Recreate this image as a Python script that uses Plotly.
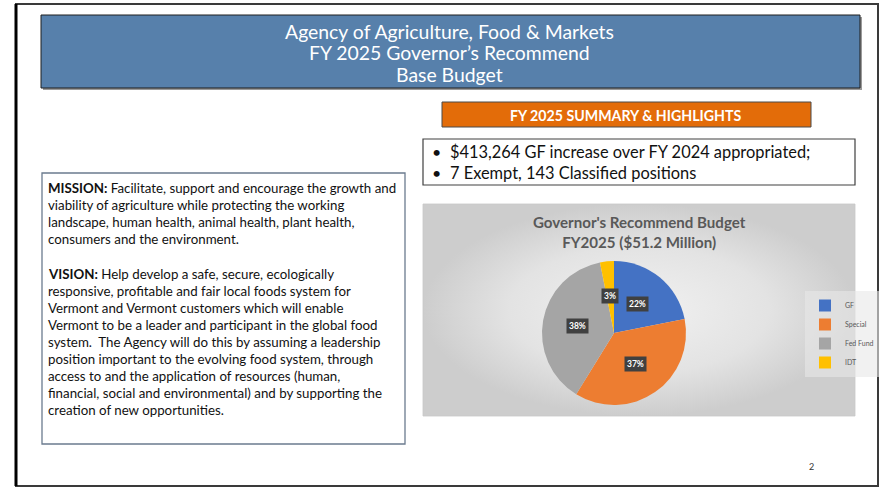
import math
import plotly.graph_objects as go

# ---- data ----
categories = ["GF", "Special", "Fed Fund", "IDT"]
values = [11.2, 18.9, 19.5, 1.6]  # $ millions, total 51.2
slice_colors = ["#4472C4", "#ED7D31", "#A5A5A5", "#FFC000"]

title_lines = ["Agency of Agriculture, Food &amp; Markets",
               "FY 2025 Governor’s Recommend",
               "Base Budget"]
summary_header = "FY 2025 SUMMARY &amp; HIGHLIGHTS"
highlights = ["$413,264 GF increase over FY 2024 appropriated;",
              "7 Exempt, 143 Classified positions"]
mission_lines = ["<b>MISSION:</b> Facilitate, support and encourage the growth and",
                 "viability of agriculture while protecting the working",
                 "landscape, human health, animal health, plant health,",
                 "consumers and the environment."]
vision_lines = ["<b>VISION:</b> Help develop a safe, secure, ecologically",
                "responsive, profitable and fair local foods system for",
                "Vermont and Vermont customers which will enable",
                "Vermont to be a leader and participant in the global food",
                "system.  The Agency will do this by assuming a leadership",
                "position important to the evolving food system, through",
                "access to and the application of resources (human,",
                "financial, social and environmental) and by supporting the",
                "creation of new opportunities."]
chart_title = "Governor's Recommend Budget<br>FY2025 ($51.2 Million)"
page_number = "2"

W, H = 879, 487
FONT = "Lato"


def px(x):
    return x / W


def py(y):
    return 1 - y / H


fig = go.Figure()

# chart area background with gradient
fig.add_trace(go.Scatter(
    x=[423, 855, 855, 423, 423], y=[204, 204, 416, 416, 204],
    mode="lines", fill="toself", line=dict(width=0.8, color="#c8c8c8"),
    fillgradient=dict(type="radial",
                      colorscale=[[0, "#f1f1f1"], [0.6, "#e3e3e3"], [1, "#cdcdcd"]]),
    hoverinfo="skip", showlegend=False))

# pie
cx, cy, R = 614, 333, 72
fig.add_trace(go.Pie(
    labels=categories, values=values, sort=False, direction="clockwise",
    rotation=0, marker=dict(colors=slice_colors, line=dict(width=0)),
    textinfo="none", hoverinfo="label+percent",
    domain=dict(x=[px(cx - R), px(cx + R)], y=[py(cy + R), py(cy - R)]),
))

shapes = []
# outer frame
shapes.append(dict(type="rect", xref="paper", yref="paper",
                   x0=px(16), x1=px(878), y0=py(486), y1=py(4),
                   line=dict(color="#3a3a3a", width=2), layer="below"))
shapes.append(dict(type="line", xref="paper", yref="paper",
                   x0=px(16), x1=px(16), y0=py(486), y1=py(4),
                   line=dict(color="#000000", width=3), layer="below"))
# title box (shadow + box)
shapes.append(dict(type="rect", xref="paper", yref="paper",
                   x0=px(43), x1=px(862), y0=py(90), y1=py(17),
                   fillcolor="#9a9a9a", line=dict(width=0), layer="below"))
shapes.append(dict(type="rect", xref="paper", yref="paper",
                   x0=px(41), x1=px(860), y0=py(88), y1=py(15),
                   fillcolor="#5780AB", line=dict(color="#1f1f1f", width=1), layer="below"))
# orange header
shapes.append(dict(type="rect", xref="paper", yref="paper",
                   x0=px(442), x1=px(811), y0=py(127), y1=py(102),
                   fillcolor="#E36C09", line=dict(color="#4a4a4a", width=1), layer="below"))
# highlights box
shapes.append(dict(type="rect", xref="paper", yref="paper",
                   x0=px(423), x1=px(855), y0=py(185), y1=py(139),
                   fillcolor="white", line=dict(color="#404040", width=1.2), layer="below"))
# mission box
shapes.append(dict(type="rect", xref="paper", yref="paper",
                   x0=px(42), x1=px(405), y0=py(444), y1=py(173),
                   fillcolor="white", line=dict(color="#6b7b8f", width=1.3), layer="below"))

annotations = []


def add_text(text, x, y, size, color, xanchor="center", family=FONT, **kw):
    annotations.append(dict(text=text, x=px(x), y=py(y), xref="paper", yref="paper",
                            showarrow=False, xanchor=xanchor, yanchor="middle",
                            align="left" if xanchor == "left" else "center",
                            font=dict(family=family, size=size, color=color), **kw))


for t, yy in zip(title_lines, [31, 52, 74]):
    add_text(t, 450, yy, 19.4, "white")
add_text("<b>" + summary_header + "</b>", 626, 115, 14.2, "white")
for t, yy in zip(highlights, [151, 172]):
    add_text("•", 430, yy, 16, "#111111", xanchor="left")
    add_text(t, 448, yy, 16.4, "#111111", xanchor="left")
for i, t in enumerate(mission_lines):
    add_text(t, 46, 188 + i * 17, 13.3, "#111111", xanchor="left")
for i, t in enumerate(vision_lines):
    add_text(t, 46, 274 + i * 17, 13.3, "#111111", xanchor="left")
add_text("<b>" + chart_title + "</b>", 639, 232, 15.1, "#595959")
add_text(page_number, 811, 466, 9, "#333333")

# data labels on slices (positions derived from the values)
total = sum(values)
cum = 0.0
for v in values:
    frac = v / total
    mid = (cum + frac / 2) * 2 * math.pi
    cum += frac
    lx = cx + 0.52 * R * math.sin(mid)
    ly = cy - 0.52 * R * math.cos(mid)
    add_text("<b>%d%%</b>" % round(frac * 100), lx, ly, 8.5, "white",
             bgcolor="#404040", borderpad=2)

fig.update_layout(
    width=W, height=H, margin=dict(l=0, r=0, t=0, b=0),
    paper_bgcolor="white", plot_bgcolor="rgba(0,0,0,0)",
    xaxis=dict(range=[0, W], visible=False, fixedrange=True),
    yaxis=dict(range=[H, 0], visible=False, fixedrange=True),
    shapes=shapes, annotations=annotations,
    showlegend=True,
    legend=dict(x=px(805), y=py(334), xanchor="left", yanchor="middle",
                bgcolor="rgba(232,232,232,0.6)", borderwidth=0,
                font=dict(family=FONT, size=7, color="#595959"),
                itemwidth=30, tracegroupgap=0),
)

fig.write_html("out.html", config={"displayModeBar": False},
               post_script="document.body.style.margin='0px';document.body.style.overflow='hidden';")
